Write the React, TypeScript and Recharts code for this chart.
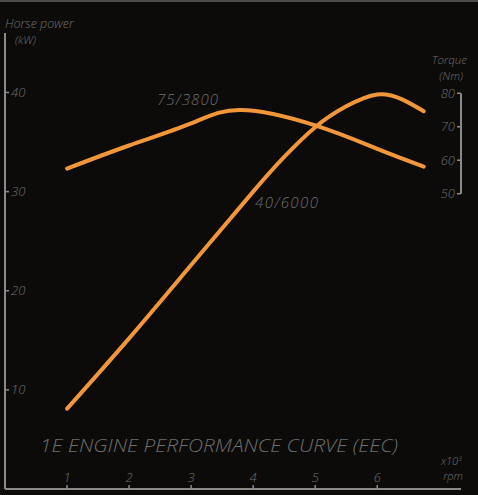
import React from "react";
import { ComposedChart, Line, XAxis, YAxis, ReferenceLine } from "recharts";

// horse power curve: engine speed (x1000 rpm) and power (kW)
const powerRpm = [1, 2, 3, 4, 4.5, 5, 5.5, 6, 6.4, 6.75];
const powerKw = [8.1, 15.2, 22.6, 30.0, 33.5, 36.5, 38.6, 39.8, 39.3, 38.1];
// torque curve: engine speed (x1000 rpm) and torque (Nm)
const torqueRpm = [1, 2, 3, 3.8, 5, 6, 6.75];
const torqueNm = [57.5, 64.4, 71.0, 75, 70.4, 63.4, 58.1];

const rpmTicks = [1, 2, 3, 4, 5, 6];
const powerTicks = [10, 20, 30, 40];
const torqueTicks = [50, 60, 70, 80];

const powerData = powerRpm.map((r, i) => ({ rpm: r, power: powerKw[i] }));
const torqueData = torqueRpm.map((r, i) => ({ rpm: r, torque: torqueNm[i] }));

const ORANGE = "#f2963a";
const AXIS = "#8a8a8a";
const TEXT = "#6e6e6e";
const FONT = "'Open Sans', 'DejaVu Sans', sans-serif";

const tickStyle = { fill: TEXT, fontSize: 13, fontStyle: "italic" as const, fontFamily: FONT, fontWeight: 300 };

export default function App() {
  return (
    <div
      style={{
        position: "absolute",
        left: 0,
        top: 0,
        width: 478,
        height: 495,
        background: "#0c0b0a",
        borderTop: "2px solid #4c4c4c",
        boxSizing: "border-box",
        overflow: "hidden",
      }}
    >
      <ComposedChart
        width={478}
        height={493}
        margin={{ top: 31, right: 17, bottom: 6, left: 5 }}
        style={{ position: "absolute", left: 0, top: 0 }}
      >
        <XAxis
          dataKey="rpm"
          type="number"
          domain={[0, 7.35]}
          ticks={rpmTicks}
          mirror
          allowDataOverflow
          axisLine={{ stroke: AXIS, strokeWidth: 2 }}
          tickLine={{ stroke: AXIS, strokeWidth: 1.5 }}
          tickSize={4}
          tickMargin={3}
          tick={tickStyle}
        />
        <YAxis
          yAxisId="left"
          domain={[0, 46]}
          ticks={powerTicks}
          mirror
          allowDataOverflow
          axisLine={{ stroke: AXIS, strokeWidth: 2 }}
          tickLine={{ stroke: AXIS, strokeWidth: 1.5 }}
          tickSize={4}
          tickMargin={2}
          tick={tickStyle}
        />
        <YAxis
          yAxisId="right"
          orientation="right"
          domain={[-38.2, 98]}
          ticks={torqueTicks}
          mirror
          allowDataOverflow
          axisLine={false}
          tickLine={{ stroke: AXIS, strokeWidth: 1.5 }}
          tickSize={4}
          tickMargin={2}
          tick={tickStyle}
        />
        <ReferenceLine
          yAxisId="right"
          segment={[
            { x: 7.35, y: 50 },
            { x: 7.35, y: 80 },
          ]}
          stroke={AXIS}
          strokeWidth={2}
          ifOverflow="visible"
        />
        <Line
          yAxisId="right"
          data={torqueData}
          dataKey="torque"
          type="natural"
          stroke={ORANGE}
          strokeWidth={4}
          strokeLinecap="round"
          dot={false}
          isAnimationActive={false}
        />
        <Line
          yAxisId="left"
          data={powerData}
          dataKey="power"
          type="natural"
          stroke={ORANGE}
          strokeWidth={4}
          strokeLinecap="round"
          dot={false}
          isAnimationActive={false}
        />
      </ComposedChart>
      <svg
        width={478}
        height={493}
        style={{ position: "absolute", left: 0, top: 0, pointerEvents: "none" }}
        fontFamily={FONT}
        fontStyle="italic"
        fontWeight={300}
        fill={TEXT}
      >
        <text x={5} y={26} fontSize={12.5}>Horse power</text>
        <text x={15} y={42} fontSize={11.5}>(kW)</text>
        <text x={467} y={62} fontSize={11.5} textAnchor="end">Torque</text>
        <text x={463} y={78} fontSize={11.5} textAnchor="end">(Nm)</text>
        <text x={157} y={103} fontSize={15} textLength={61}>75/3800</text>
        <text x={255} y={206} fontSize={15} textLength={63}>40/6000</text>
        <text x={40} y={450} fontSize={18} textLength={358} lengthAdjust="spacingAndGlyphs">
          1E ENGINE PERFORMANCE CURVE (EEC)
        </text>
        <text x={462} y={463} fontSize={11} textAnchor="end">
          x10<tspan fontSize={7} dy={-4}>3</tspan>
        </text>
        <text x={463} y={478} fontSize={11} textAnchor="end">rpm</text>
      </svg>
    </div>
  );
}
